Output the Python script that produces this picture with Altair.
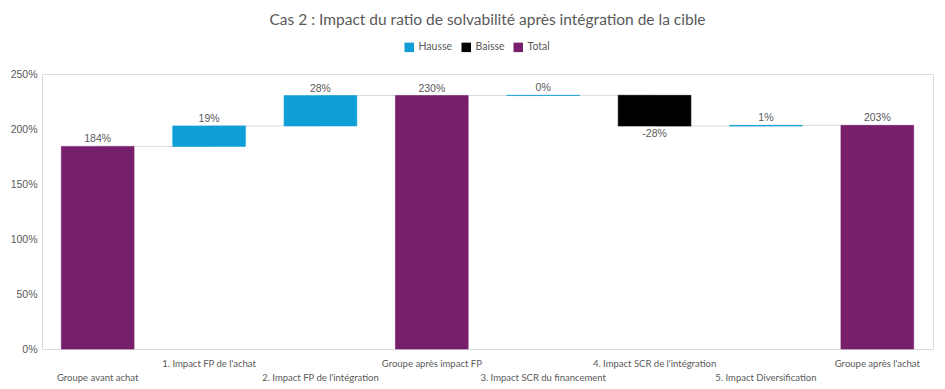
import json
import altair as alt
import pandas as pd

categories = [
    "Groupe avant achat",
    "1. Impact FP de l'achat",
    "2. Impact FP de l'intégration",
    "Groupe après impact FP",
    "3. Impact SCR du financement",
    "4. Impact SCR de l'intégration",
    "5. Impact Diversification",
    "Groupe après l'achat",
]
# None = total bar (computed running sum)
deltas = [184.2, 18.6, 27.6, None, 0.2, -27.9, 0.6, None]
kinds = ["Total", "Hausse", "Hausse", "Total", "Hausse", "Baisse", "Hausse", "Total"]

rows = []
running = 0.0
for i, (c, d, k) in enumerate(zip(categories, deltas, kinds)):
    if k == "Total":
        val = running if d is None else d
        start, end = 0.0, val
        running = val
        shown = val
    else:
        start, end = running, running + d
        running = end
        shown = d
    rows.append(dict(cat=c, idx=i, start=start, end=end, kind=k,
                     label=f"{round(shown):.0f}%",
                     top=max(start, end), bottom=min(start, end),
                     nxt=categories[i + 1] if i + 1 < len(categories) else None,
                     level=end))
df = pd.DataFrame(rows)
conn = df[df["nxt"].notna()].copy()

FONT_N = "Lato, sans-serif"
FONT = "Liberation Sans, Arial, sans-serif"
GREY = "#595959"

color_scale = alt.Scale(domain=["Hausse", "Baisse", "Total"],
                        range=["#0E9FD6", "#000000", "#771F6B"])

cat_list = json.dumps(categories)
xaxis = alt.Axis(
    title=None, labelAngle=0, ticks=False, domain=True, domainColor="#D9D9D9",
    labelColor=GREY, labelFont=FONT_N, labelFontSize=9.5, labelPadding=9,
    labelLineHeight=14, labelLimit=200,
    labelExpr=f"indexof({cat_list}, datum.value) % 2 == 0 ? ['', datum.label] : datum.label",
)
xenc = alt.X("cat:N", sort=categories,
             scale=alt.Scale(paddingInner=0.347, paddingOuter=0.1735),
             axis=xaxis)
yscale = alt.Scale(domain=[0, 250], nice=False)
yaxis = alt.Axis(title=None, values=[0, 50, 100, 150, 200, 250],
                 labelExpr="datum.value + '%'", grid=False, ticks=False,
                 domain=True, domainColor="#D9D9D9", labelColor=GREY,
                 labelFont=FONT, labelFontSize=10.5, labelPadding=5)

connectors = alt.Chart(conn).mark_rule(color="#D9D9D9", strokeWidth=1).encode(
    x=xenc,
    x2="nxt:N",
    y=alt.Y("level:Q", scale=yscale, axis=yaxis),
)

bars = alt.Chart(df).mark_bar(strokeWidth=1, strokeOpacity=0.6).encode(
    x=xenc,
    y=alt.Y("start:Q", scale=yscale, axis=yaxis),
    y2="end:Q",
    color=alt.Color("kind:N", scale=color_scale, sort=["Hausse", "Baisse", "Total"],
                    legend=alt.Legend(title=None, orient="none", direction="horizontal",
                                      legendX=362, legendY=-32, symbolType="square",
                                      symbolSize=90, symbolStrokeWidth=0,
                                      labelFont=FONT_N, labelFontSize=10.5,
                                      labelColor=GREY, columnPadding=8,
                                      labelOffset=4)),
    stroke=alt.Stroke("kind:N", scale=color_scale, legend=None),
)

text_up = alt.Chart(df[df["kind"] != "Baisse"]).mark_text(
    baseline="bottom", dy=-2, font=FONT, fontSize=10.5, color=GREY
).encode(x=xenc, y=alt.Y("top:Q", scale=yscale), text="label:N")

text_down = alt.Chart(df[df["kind"] == "Baisse"]).mark_text(
    baseline="top", dy=3, font=FONT, fontSize=10.5, color=GREY
).encode(x=xenc, y=alt.Y("bottom:Q", scale=yscale), text="label:N")

chart = alt.layer(connectors, bars, text_up, text_down).properties(
    width=891, height=275,
    autosize=alt.AutoSizeParams(type="none"),
    padding={"left": 34, "top": 66, "right": 4, "bottom": 40},
    title=alt.TitleParams("Cas 2 : Impact du ratio de solvabilité après intégration de la cible",
                          font=FONT_N, fontSize=15.5, fontWeight="normal",
                          color=GREY, anchor="middle", offset=14),
).configure_view(stroke=None).configure(background="white")

chart.save("out.html", embed_options={"renderer": "svg", "actions": False})
